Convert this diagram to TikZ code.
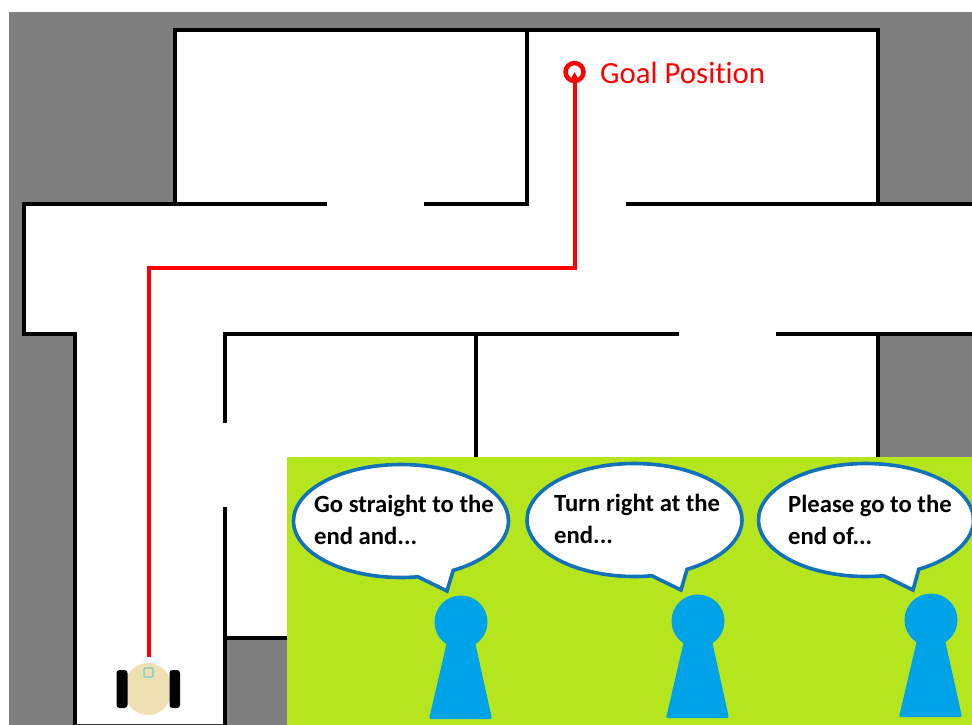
\documentclass[tikz,border=0pt]{standalone}
\usepackage{fontspec}
\setmainfont[Ligatures=NoCommon]{Carlito}
\usepackage{xcolor}
\usetikzlibrary{shapes.callouts,shapes.geometric,arrows.meta}
\definecolor{floorgray}{RGB}{127,127,127}
\definecolor{grass}{RGB}{181,230,29}
\definecolor{bubbleblue}{RGB}{17,113,187}
\definecolor{peopleblue}{RGB}{0,162,232}
\definecolor{robotbody}{RGB}{238,224,177}
\definecolor{robotsensor}{RGB}{120,195,205}

\begin{document}
\begin{tikzpicture}[x=1pt, y=-1pt,
  wall/.style={line width=3.6pt, black, line cap=rect},
  route/.style={line width=4pt, red, -{Triangle[length=7pt,width=7pt]}},
  bubble/.style={ellipse callout, draw=bubbleblue, fill=white, line width=3.6pt, minimum width=215pt, minimum height=113pt,
    callout pointer arc=20, inner sep=0pt},
  speech/.style={font=\fontsize{24.7}{32}\selectfont\bfseries, align=left, anchor=north west, inner sep=0pt},
  wheel/.style={fill=black, rounded corners=3pt},
  person/.pic={
    \fill[peopleblue] (0,0) circle[radius=26.5];
    \fill[peopleblue, rounded corners=2pt] (-14,20) -- (14,20) -- (31,97) -- (-32,97) -- cycle;
  }]
  \useasboundingbox (0,0) rectangle (972,725);
  \clip (0,0) rectangle (972,725);
  % floor plan
  \fill[floorgray] (9,12) rectangle (972,725);
  \fill[white] (175,30) rectangle (878,205);
  \fill[white] (24,205) rectangle (972,334);
  \fill[white] (75,334) rectangle (225,725);
  \fill[white] (225,334) rectangle (878,638);
  % walls
  \draw[wall] (175,204) -- (175,30) -- (878,30) -- (878,204);
  \draw[wall] (325,204) -- (24,204) -- (24,334) -- (75,334) -- (75,730);
  \draw[wall] (426,204) -- (527,204) -- (527,30);
  \draw[wall] (628,204) -- (980,204);
  \draw[wall] (225,421) -- (225,334) -- (677,334);
  \draw[wall] (778,334) -- (980,334);
  \draw[wall] (225,509) -- (225,730);
  \draw[wall] (225,638) -- (300,638);
  \draw[wall] (476,334) -- (476,470);
  \draw[wall] (878,334) -- (878,470);
  \draw[line width=2pt, black!80] (75,725) -- (225,725);
  % robot
  \node[fill=robotbody, ellipse, minimum width=48pt, minimum height=52pt, inner sep=0pt] (robot) at (148,689) {};
  \fill[wheel] (116.5,670) rectangle (127.5,708);
  \fill[wheel] (169.5,670) rectangle (180,708);
  \draw[robotsensor, line width=1.3pt, rounded corners=1pt] (144,668) rectangle (153,677);
  % route to the goal
  \node[draw=red, line width=4.5pt, circle, minimum size=18pt, inner sep=0pt] (goal) at (574.5,72) {};
  \node[anchor=base west, text=red, font=\fontsize{30.8}{32}\selectfont, inner sep=0pt] (goallabel) at (600,84) {Goal Position};
  \coordinate (start) at (149,657);
  \draw[route] (start) -- (149,268) -- (574.5,268) -- (goal.center);
  % people
  \fill[grass] (287,457) rectangle (972,725);
  \node[bubble, callout absolute pointer={(447,591)}] (bubblea) at (401,521) {};
  \node[bubble, callout absolute pointer={(681,590)}] (bubbleb) at (634.5,520) {};
  \node[bubble, callout absolute pointer={(913,590)}] (bubblec) at (866,520) {};
  \node[speech] (texta) at (314,495) {Go straight to the\\end and...};
  \node[speech] (textb) at (554,494) {Turn right at the\\end...};
  \node[speech] (textc) at (788,495) {Please go to the\\end of...};
  \pic (persona) at (461,622) {person};
  \pic (personb) at (698,621) {person};
  \pic (personc) at (931,620) {person};
\end{tikzpicture}
\end{document}
